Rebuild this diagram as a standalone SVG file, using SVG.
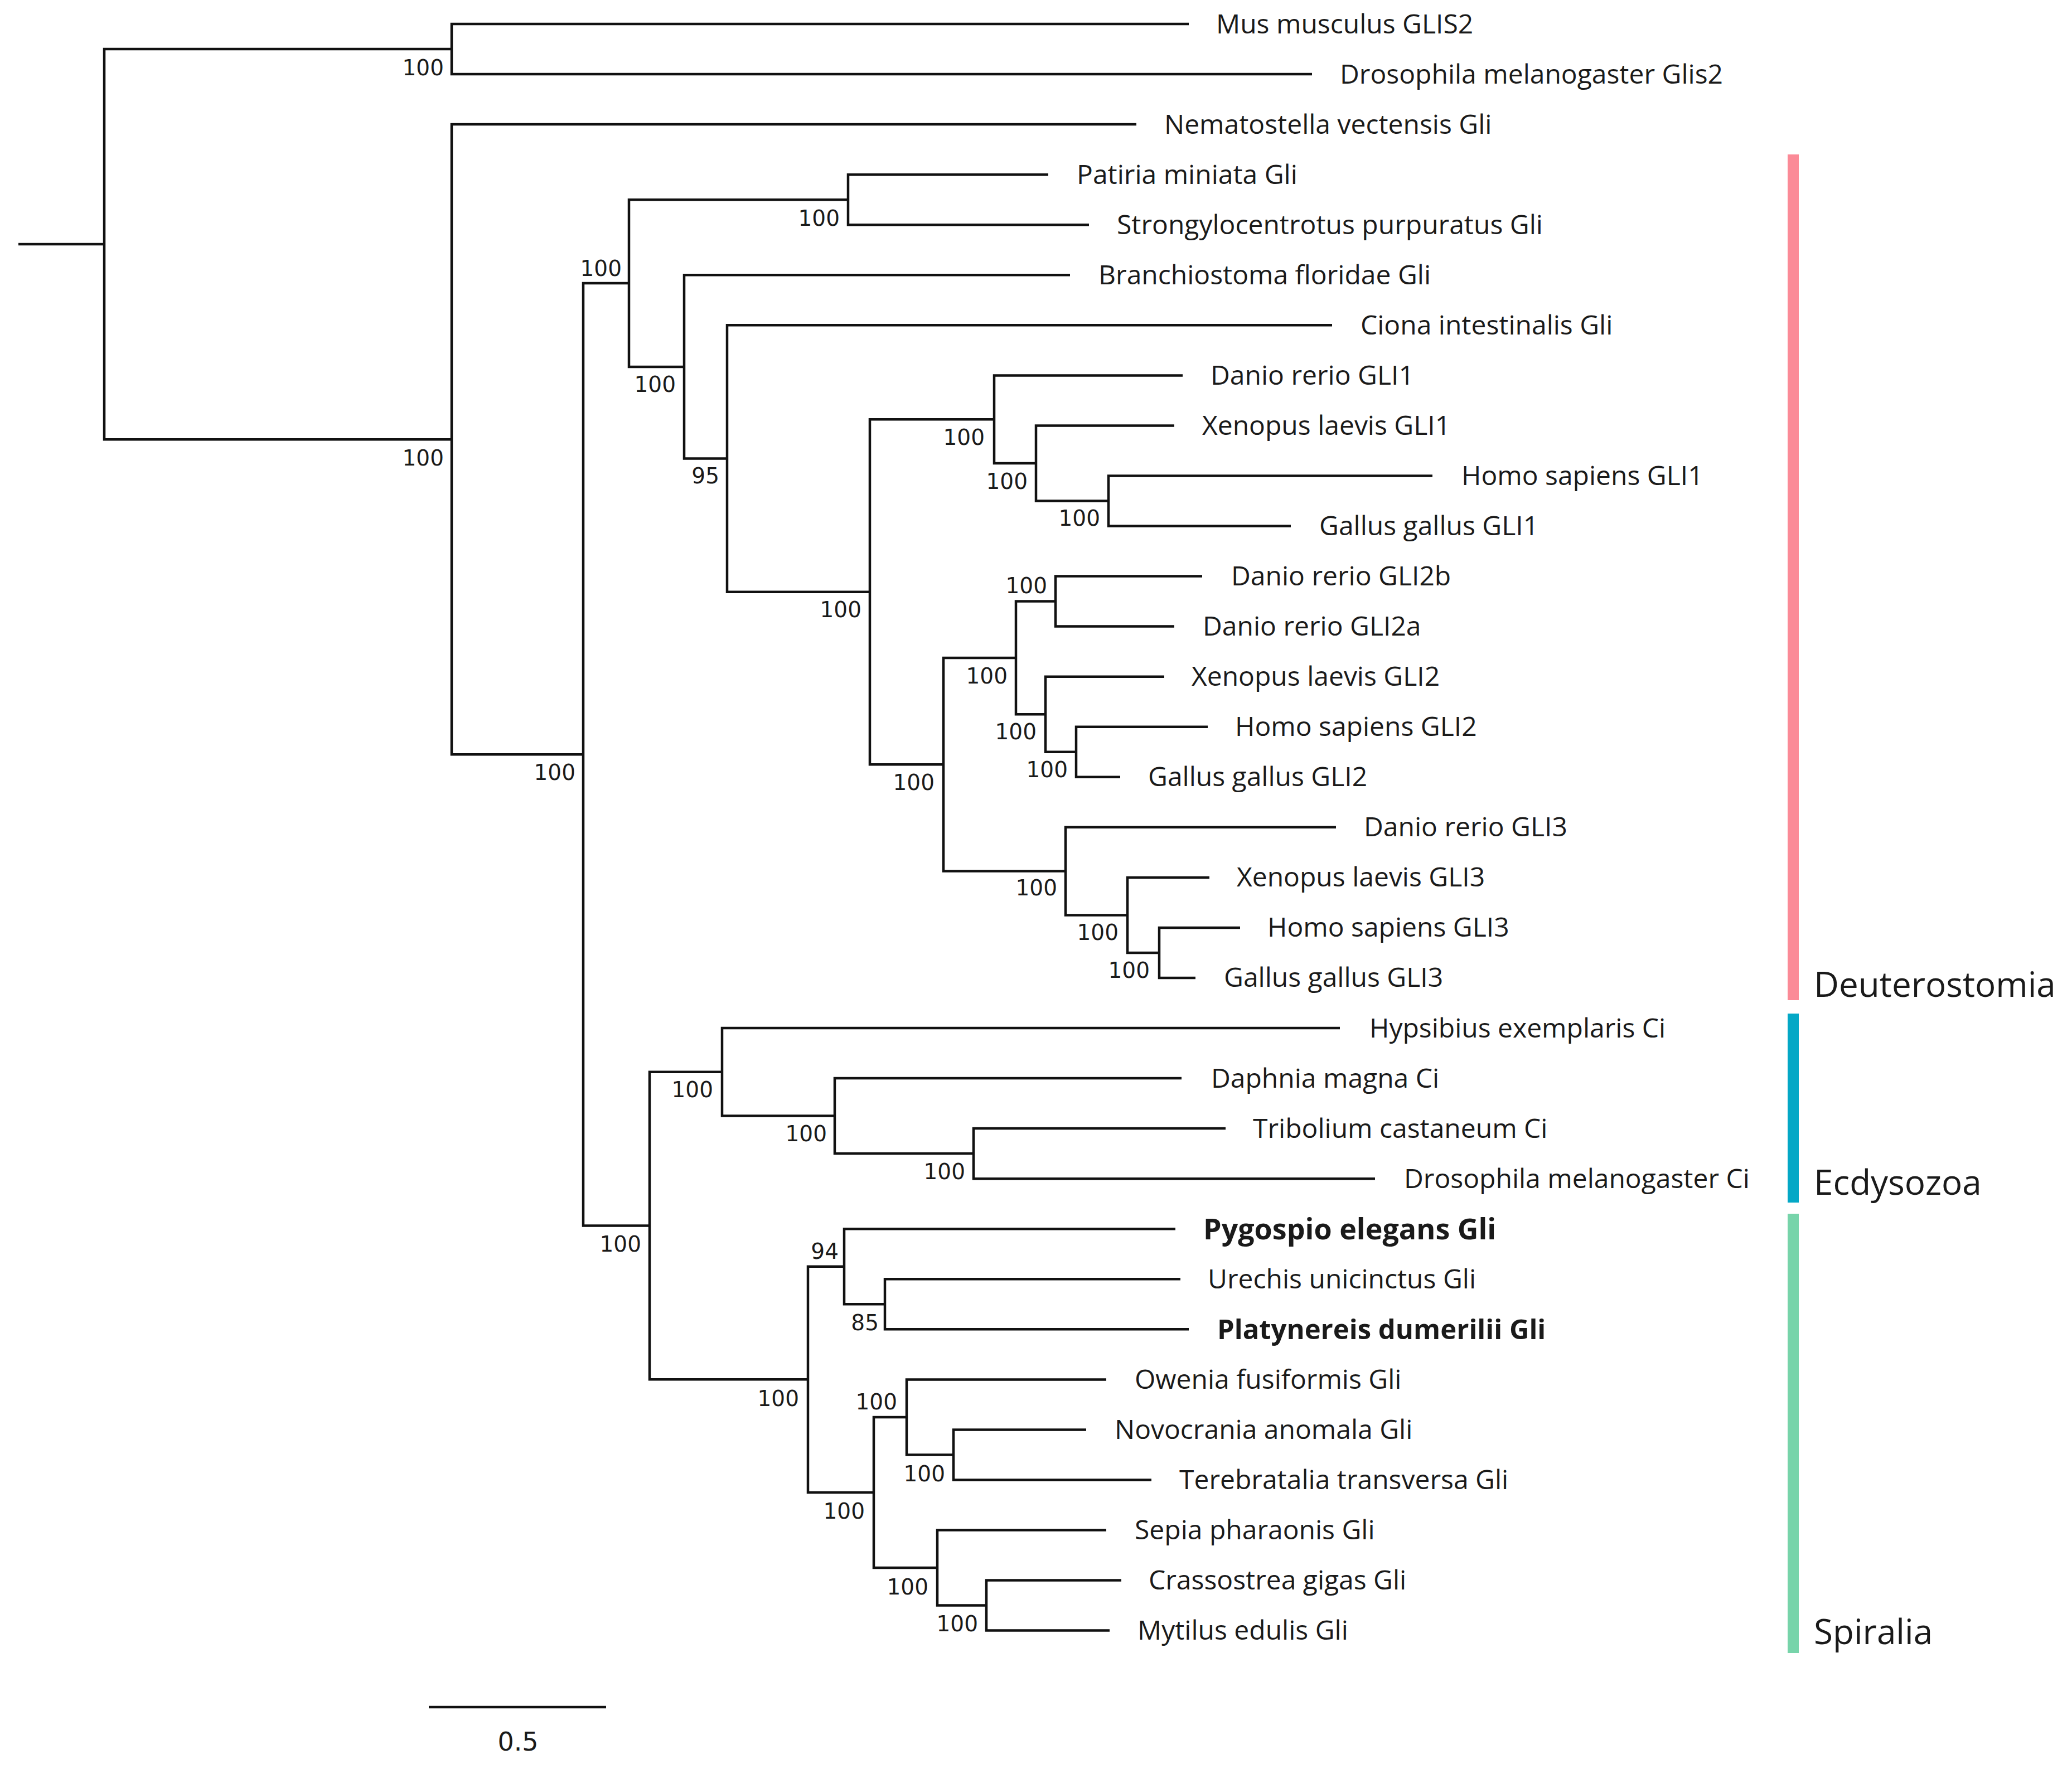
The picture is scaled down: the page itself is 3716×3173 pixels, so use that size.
<svg xmlns="http://www.w3.org/2000/svg" width="3716" height="3173" viewBox="0 0 3716 3173">
<style>
.br{fill:none;stroke:#111;stroke-width:4.5;stroke-linejoin:miter;stroke-linecap:butt}
.lf{font-family:"Open Sans","Liberation Sans",sans-serif;font-size:48px;fill:#1a1a1a}
.bd{font-weight:bold}
.bs{font-family:"DejaVu Sans","Liberation Sans",sans-serif;font-size:39px;fill:#1a1a1a;text-anchor:end}
.cl{font-family:"Open Sans","Liberation Sans",sans-serif;font-size:62px;fill:#1a1a1a}
</style>
<rect width="3716" height="3173" fill="#ffffff"/>
<g id="connectors">
<path class="br" d="M33 438.1H187"/>
<path id="e-root" class="br" d="M810 88H187V788.2H810"/>
<path id="e-A" class="br" d="M2132 43H810V133H2353"/>
<path id="e-B" class="br" d="M2038 223.1H810V1353.3H1046"/>
<path id="e-C" class="br" d="M1128 508H1046V2198.6H1165"/>
<path id="e-D" class="br" d="M1521 358.2H1128V657.9H1227"/>
<path id="e-E" class="br" d="M1880 313.2H1521V403.2H1953"/>
<path id="e-F" class="br" d="M1919 493.3H1227V822.5H1304"/>
<path id="e-G" class="br" d="M2389 583.3H1304V1061.7H1560"/>
<path id="e-H" class="br" d="M1783 752.2H1560V1371.3H1692"/>
<path id="e-I" class="br" d="M2121 673.4H1783V831H1858"/>
<path id="e-J" class="br" d="M2106 763.4H1858V898.5H1988"/>
<path id="e-K" class="br" d="M2569 853.5H1988V943.5H2315"/>
<path id="e-L" class="br" d="M1822 1179.9H1692V1562.6H1911"/>
<path id="e-M" class="br" d="M1893 1078.6H1822V1281.2H1875"/>
<path id="e-N" class="br" d="M2156 1033.6H1893V1123.6H2106"/>
<path id="e-O" class="br" d="M2088 1213.7H1875V1348.7H1930"/>
<path id="e-P" class="br" d="M2166 1303.7H1930V1393.8H2009"/>
<path id="e-Q" class="br" d="M2396 1483.8H1911V1641.4H2022"/>
<path id="e-R" class="br" d="M2169 1573.9H2022V1708.9H2079"/>
<path id="e-S" class="br" d="M2224 1663.9H2079V1754H2144"/>
<path id="e-T" class="br" d="M1295 1922.8H1165V2474.3H1449"/>
<path id="e-U" class="br" d="M2403 1844H1295V2001.6H1497"/>
<path id="e-V" class="br" d="M2119 1934H1497V2069.1H1746"/>
<path id="e-W" class="br" d="M2198 2024.1H1746V2114.2H2466"/>
<path id="e-X" class="br" d="M1514 2271.7H1449V2677H1567"/>
<path id="e-Y" class="br" d="M2108 2204.2H1514V2339.3H1587"/>
<path id="e-Z" class="br" d="M2117 2294.3H1587V2384.3H2132"/>
<path id="e-AA" class="br" d="M1626 2541.9H1567V2812H1681"/>
<path id="e-AB" class="br" d="M1984 2474.4H1626V2609.4H1710"/>
<path id="e-AC" class="br" d="M1948 2564.4H1710V2654.5H2065"/>
<path id="e-AD" class="br" d="M1984 2744.5H1681V2879.6H1769"/>
<path id="e-AE" class="br" d="M2011 2834.6H1769V2924.6H1990"/>
</g>
<g id="support">
<text class="bs" x="796" y="135">100</text>
<text class="bs" x="796" y="835">100</text>
<text class="bs" x="1032" y="1399">100</text>
<text class="bs" x="1115" y="495">100</text>
<text class="bs" x="1506" y="405">100</text>
<text class="bs" x="1212" y="703">100</text>
<text class="bs" x="1290" y="867">95</text>
<text class="bs" x="1545" y="1107">100</text>
<text class="bs" x="1766" y="798">100</text>
<text class="bs" x="1843" y="877">100</text>
<text class="bs" x="1973" y="943">100</text>
<text class="bs" x="1676" y="1417">100</text>
<text class="bs" x="1807" y="1226">100</text>
<text class="bs" x="1878" y="1064">100</text>
<text class="bs" x="1859" y="1326">100</text>
<text class="bs" x="1915" y="1394">100</text>
<text class="bs" x="1896" y="1606">100</text>
<text class="bs" x="2006" y="1686">100</text>
<text class="bs" x="2062" y="1754">100</text>
<text class="bs" x="1150" y="2245">100</text>
<text class="bs" x="1279" y="1968">100</text>
<text class="bs" x="1483" y="2047">100</text>
<text class="bs" x="1731" y="2115">100</text>
<text class="bs" x="1433" y="2522">100</text>
<text class="bs" x="1504" y="2258">94</text>
<text class="bs" x="1576" y="2386">85</text>
<text class="bs" x="1551" y="2724">100</text>
<text class="bs" x="1609" y="2528">100</text>
<text class="bs" x="1695" y="2657">100</text>
<text class="bs" x="1665" y="2860">100</text>
<text class="bs" x="1754" y="2926">100</text>
</g>
<g id="leaf-0"><text class="lf" x="2181" y="60">Mus musculus GLIS2</text></g>
<g id="leaf-1"><text class="lf" x="2403" y="150">Drosophila melanogaster Glis2</text></g>
<g id="leaf-2"><text class="lf" x="2088" y="240">Nematostella vectensis Gli</text></g>
<g id="leaf-3"><text class="lf" x="1931" y="330">Patiria miniata Gli</text></g>
<g id="leaf-4"><text class="lf" x="2003" y="420">Strongylocentrotus purpuratus Gli</text></g>
<g id="leaf-5"><text class="lf" x="1970" y="510">Branchiostoma floridae Gli</text></g>
<g id="leaf-6"><text class="lf" x="2440" y="600">Ciona intestinalis Gli</text></g>
<g id="leaf-7"><text class="lf" x="2171" y="690">Danio rerio GLI1</text></g>
<g id="leaf-8"><text class="lf" x="2156" y="780">Xenopus laevis GLI1</text></g>
<g id="leaf-9"><text class="lf" x="2621" y="870">Homo sapiens GLI1</text></g>
<g id="leaf-10"><text class="lf" x="2366" y="960">Gallus gallus GLI1</text></g>
<g id="leaf-11"><text class="lf" x="2208" y="1050">Danio rerio GLI2b</text></g>
<g id="leaf-12"><text class="lf" x="2157" y="1140">Danio rerio GLI2a</text></g>
<g id="leaf-13"><text class="lf" x="2137" y="1230">Xenopus laevis GLI2</text></g>
<g id="leaf-14"><text class="lf" x="2215" y="1320">Homo sapiens GLI2</text></g>
<g id="leaf-15"><text class="lf" x="2059" y="1410">Gallus gallus GLI2</text></g>
<g id="leaf-16"><text class="lf" x="2446" y="1500">Danio rerio GLI3</text></g>
<g id="leaf-17"><text class="lf" x="2218" y="1590">Xenopus laevis GLI3</text></g>
<g id="leaf-18"><text class="lf" x="2273" y="1680">Homo sapiens GLI3</text></g>
<g id="leaf-19"><text class="lf" x="2195" y="1770">Gallus gallus GLI3</text></g>
<g id="leaf-20"><text class="lf" x="2456" y="1861">Hypsibius exemplaris Ci</text></g>
<g id="leaf-21"><text class="lf" x="2172" y="1951">Daphnia magna Ci</text></g>
<g id="leaf-22"><text class="lf" x="2247" y="2041">Tribolium castaneum Ci</text></g>
<g id="leaf-23"><text class="lf" x="2518" y="2131">Drosophila melanogaster Ci</text></g>
<g id="leaf-24"><text class="lf bd" x="2158" y="2223" style="font-size:52px">Pygospio elegans Gli</text></g>
<g id="leaf-25"><text class="lf" x="2166" y="2311">Urechis unicinctus Gli</text></g>
<g id="leaf-26"><text class="lf bd" x="2183" y="2402" style="font-size:49px">Platynereis dumerilii Gli</text></g>
<g id="leaf-27"><text class="lf" x="2035" y="2491">Owenia fusiformis Gli</text></g>
<g id="leaf-28"><text class="lf" x="1999" y="2581">Novocrania anomala Gli</text></g>
<g id="leaf-29"><text class="lf" x="2115" y="2671">Terebratalia transversa Gli</text></g>
<g id="leaf-30"><text class="lf" x="2035" y="2761">Sepia pharaonis Gli</text></g>
<g id="leaf-31"><text class="lf" x="2060" y="2851">Crassostrea gigas Gli</text></g>
<g id="leaf-32"><text class="lf" x="2040" y="2941">Mytilus edulis Gli</text></g>
<g id="clade-deuterostomia">
<rect x="3206" y="277" width="20" height="1517" fill="#FB8A97"/>
<text class="cl" x="3253" y="1788">Deuterostomia</text>
</g>
<g id="clade-ecdysozoa">
<rect x="3206" y="1818" width="20" height="339" fill="#04A8C6"/>
<text class="cl" x="3253" y="2143">Ecdysozoa</text>
</g>
<g id="clade-spiralia">
<rect x="3206" y="2177" width="20" height="788" fill="#77D4AA"/>
<text class="cl" x="3253" y="2949">Spiralia</text>
</g>
<g id="scale-bar">
<path class="br" d="M769 3062H1087"/>
<text x="929" y="3140" text-anchor="middle" font-family="DejaVu Sans, sans-serif" font-size="46" fill="#1a1a1a">0.5</text>
</g>
</svg>
